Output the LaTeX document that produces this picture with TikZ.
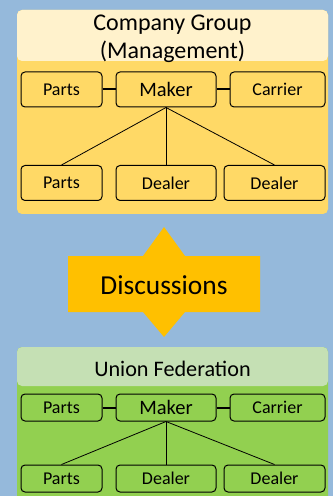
\documentclass[tikz,border=0pt]{standalone}
\usepackage{fontspec}
\setmainfont{Carlito}
\usepackage{xcolor}
\definecolor{bgblue}{RGB}{149,185,219}
\definecolor{cgbody}{RGB}{255,217,102}
\definecolor{cghead}{RGB}{255,242,204}
\definecolor{ufbody}{RGB}{146,208,80}
\definecolor{ufhead}{RGB}{197,224,180}
\definecolor{talk}{RGB}{255,192,0}

\begin{document}
\begin{tikzpicture}[x=0.5pt, y=-0.5pt,
    unit/.style={draw, line width=0.5pt, rounded corners=2pt, inner sep=0pt,
      minimum width=#1, font=\fontsize{9}{10}\selectfont},
    maker/.style={font=\fontsize{10.25}{12}\selectfont},
    rowA/.style={minimum height=17.5pt},
    rowB/.style={minimum height=13.5pt},
    link/.style={line width=1pt},
    tree/.style={line width=0.4pt}]

        % background
        \fill[bgblue] (0,0) rectangle (333,496);
        \useasboundingbox (0,0) rectangle (333,496);

        % company group
        \fill[cgbody, rounded corners=2.5pt] (17,10) rectangle (328,214);
        \fill[cghead, rounded corners=2.5pt] (17,10) rectangle (328,61);
        \node[align=center, font=\fontsize{12}{14}\selectfont] (CG) at (172.5,39) {Company Group\\(Management)};

        \node[unit=40.5pt, rowA] (CP1) at (61.5,89.5) {Parts};
        \node[unit=50pt, rowA, maker] (CM) at (166,89.5) {Maker};
        \node[unit=47.5pt, rowA] (CC) at (277.5,89.5) {Carrier};
        \node[unit=40.5pt, rowA] (CP2) at (61.5,183) {Parts};
        \node[unit=50pt, rowA] (CD1) at (166,183) {Dealer};
        \node[unit=50.5pt, rowA] (CD2) at (274.5,183) {Dealer};

        \draw[link] (CP1) -- (CM);
        \draw[link] (CM) -- (CC);
        \draw[tree] (CM.south) -- (CP2.north);
        \draw[tree] (CM.south) -- (CD1.north);
        \draw[tree] (CM.south) -- (CD2.north);

        % discussions
        \fill[talk] (68,256) -- (143,256) -- (164,227) -- (185,256) -- (260,256)
          -- (260,312) -- (185,312) -- (164,337) -- (143,312) -- (68,312) -- cycle;
        \node[font=\fontsize{13.7}{16}\selectfont] (DS) at (164,285) {Discussions};

        % union federation
        \fill[ufbody, rounded corners=2.5pt] (17,347) rectangle (328,510);
        \fill[ufhead, rounded corners=2.5pt] (17,347) rectangle (328,386);
        \node[font=\fontsize{11.1}{13}\selectfont] (UF) at (172.5,368.5) {Union Federation};

        \node[unit=40.5pt, rowB] (UP1) at (61.5,407.5) {Parts};
        \node[unit=50pt, rowB, maker] (UM) at (166,407.5) {Maker};
        \node[unit=47.5pt, rowB] (UC) at (277.5,407.5) {Carrier};
        \node[unit=40.5pt, rowB] (UP2) at (61.5,478.5) {Parts};
        \node[unit=50pt, rowB] (UD1) at (166,478.5) {Dealer};
        \node[unit=50.5pt, rowB] (UD2) at (274.5,478.5) {Dealer};

        \draw[link] (UP1) -- (UM);
        \draw[link] (UM) -- (UC);
        \draw[tree] (UM.south) -- (UP2.north);
        \draw[tree] (UM.south) -- (UD1.north);
        \draw[tree] (UM.south) -- (UD2.north);
\end{tikzpicture}
\end{document}
